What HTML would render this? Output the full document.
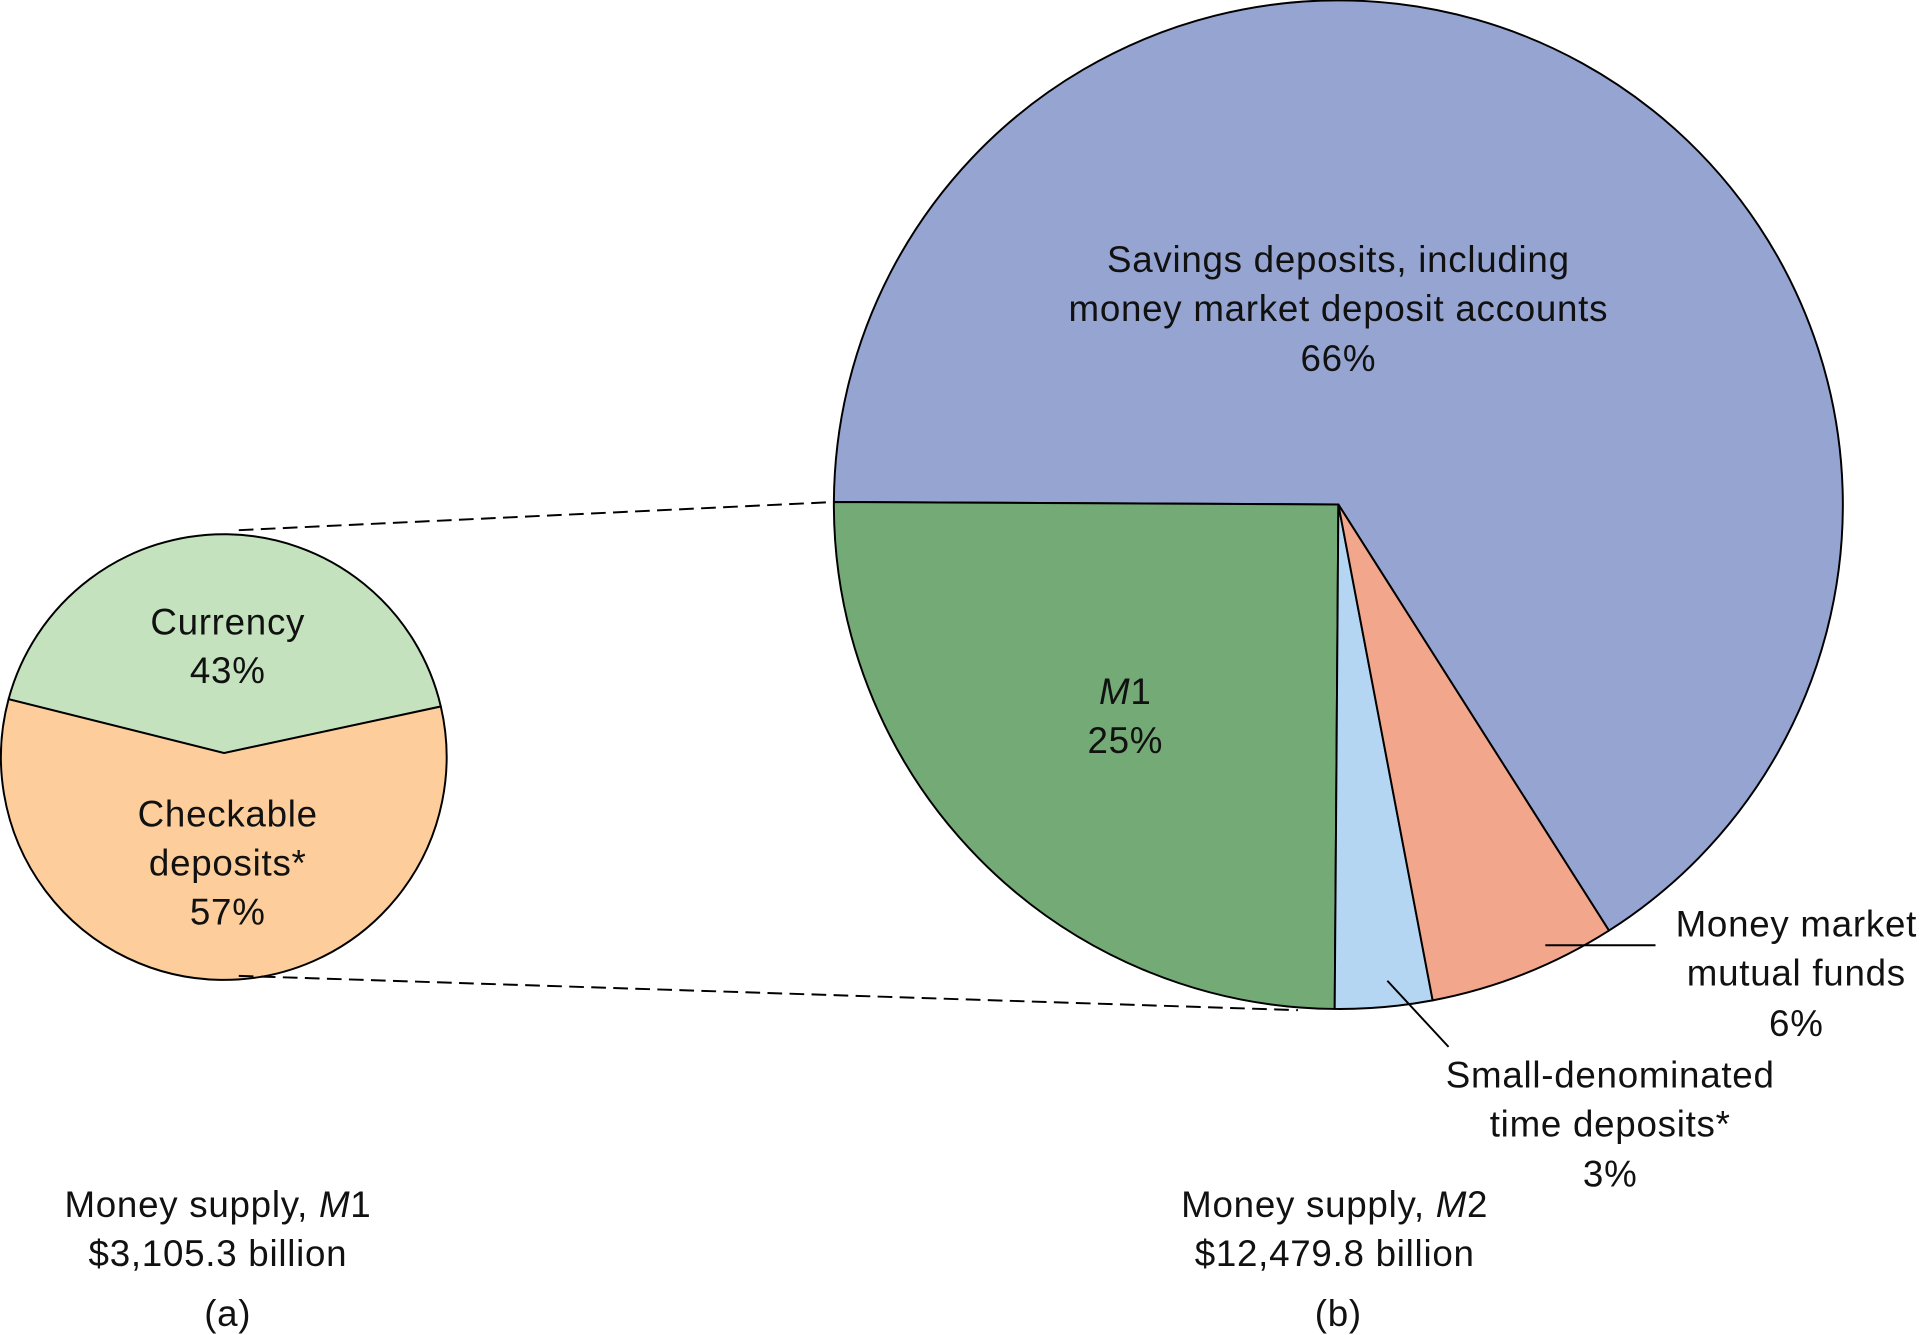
<!DOCTYPE html>
<html><head><meta charset="utf-8"><style>html,body{margin:0;padding:0;background:#fff}svg{display:block}</style></head>
<body>
<svg width="1920" height="1335" viewBox="0 0 1568 1090.3" preserveAspectRatio="none" xmlns="http://www.w3.org/2000/svg">
<g stroke="#000" stroke-width="1.6" stroke-linejoin="round">
<path d="M1093,412 L1314,760 A412,412 0 1 0 681,410 Z" fill="#96a4d1"/>
<path d="M1093,412 L681,410 A412,412 0 0 0 1090,824 Z" fill="#74aa76"/>
<path d="M1093,412 L1090,824 A412,412 0 0 0 1170,817 Z" fill="#b4d6f2"/>
<path d="M1093,412 L1170,817 A412,412 0 0 0 1314,760 Z" fill="#f2a78d"/>
<path d="M7,571 L183,615 L360,577 A182,182 0 0 0 7,571 Z" fill="#c4e2bd"/>
<path d="M7,571 L183,615 L360,577 A182,182 0 1 1 7,571 Z" fill="#fdce9c"/>
</g>
<g stroke="#000" stroke-width="1.6" fill="none">
<path d="M195,433 L681,410" stroke-dasharray="12,6"/>
<path d="M195,797 L1060,825" stroke-dasharray="12,6"/>
<path d="M1262,772 L1352,772"/>
<path d="M1133,801 L1183,855"/>
</g>
<g font-family="Liberation Sans, sans-serif" font-size="30" letter-spacing="0.6" fill="#111" text-anchor="middle">
<text x="1093" y="222">Savings deposits, including</text>
<text x="1093" y="262">money market deposit accounts</text>
<text x="1093" y="303">66%</text>
<text x="186" y="518">Currency</text>
<text x="186" y="558">43%</text>
<text x="186" y="675">Checkable</text>
<text x="186" y="715">deposits*</text>
<text x="186" y="755">57%</text>
<text x="919" y="575"><tspan font-style="italic">M</tspan>1</text>
<text x="919" y="615">25%</text>
<text x="1467" y="765">Money market</text>
<text x="1467" y="805">mutual funds</text>
<text x="1467" y="846">6%</text>
<text x="1315" y="888">Small-denominated</text>
<text x="1315" y="928">time deposits*</text>
<text x="1315" y="969">3%</text>
<text x="178" y="994">Money supply, <tspan font-style="italic">M</tspan>1</text>
<text x="178" y="1034">$3,105.3 billion</text>
<text x="186" y="1083">(a)</text>
<text x="1090" y="994">Money supply, <tspan font-style="italic">M</tspan>2</text>
<text x="1090" y="1034">$12,479.8 billion</text>
<text x="1093" y="1083">(b)</text>
</g>
</svg>
</body></html>
